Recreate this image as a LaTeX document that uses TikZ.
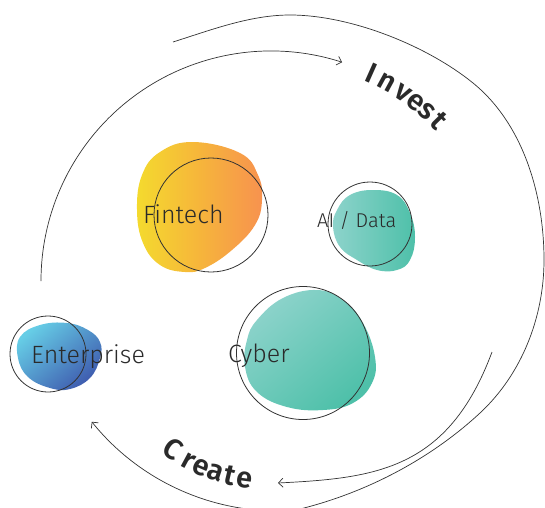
\documentclass[tikz,border=0pt]{standalone}
\usepackage{fontspec}
\newfontfamily\lightfont{Fira Sans Light}
\newfontfamily\semifont{Fira Sans SemiBold}
\usetikzlibrary{arrows.meta}
\definecolor{finY}{HTML}{F4DA2E}
\definecolor{finM}{HTML}{F6B53B}
\definecolor{finO}{HTML}{F7924F}
\definecolor{tealL}{HTML}{8DD3CB}
\definecolor{tealD}{HTML}{4EC0A9}
\definecolor{entL}{HTML}{66CDE6}
\definecolor{entM}{HTML}{34AED8}
\definecolor{entD}{HTML}{3E5AAE}
\definecolor{linegray}{HTML}{333333}
\definecolor{txt}{HTML}{2A2A2A}
\begin{document}
\begin{tikzpicture}[x=1pt,y=1pt,
  arcline/.style={line width=0.7pt, draw=linegray},
  tip/.style={-{Straight Barb[length=4.5pt,width=9pt,line width=0.7pt]}},
  ring/.style={circle, draw=linegray, line width=0.8pt, inner sep=0pt},
  lbl/.style={font=\lightfont\fontsize{25}{25}\selectfont, text=txt, anchor=base west, inner sep=0pt},
  ltr/.style={font=\semifont\fontsize{29}{29}\selectfont, text=txt, anchor=base, inner sep=0pt}]
\useasboundingbox (0,0) rectangle (545,507);
\clip (0,0) rectangle (545,507);

% blobs
\shade[left color=finY, right color=finO, middle color=finM]
  plot[smooth cycle, tension=0.7] coordinates {(193,365) (240,354) (258,332) (262,307) (255,282) (232,257) (205,239) (185,235) (160,242) (143,264) (137,297) (142,332) (160,355)};
\shade[left color=tealL, right color=tealD]
  plot[smooth cycle, tension=0.7] coordinates {(337,297) (350,312) (373,317) (397,312) (410,294) (415,270) (410,247) (397,237) (377,237) (357,247) (340,260) (333,280)};
\shade[shading=axis, top color=entL, middle color=entM, bottom color=entD, shading angle=40]
  plot[smooth cycle, tension=0.7] coordinates {(20,170) (40,182) (67,184) (88,177) (100,165) (100,149) (90,129) (70,118) (50,119) (28,130) (18,149)};
\shade[shading=axis, top color=tealL, bottom color=tealD, shading angle=40]
  plot[smooth cycle, tension=0.7] coordinates {(257,187) (283,209) (317,217) (343,207) (363,184) (375,150) (372,124) (353,104) (323,97) (287,100) (257,115) (245,140) (247,167)};

% rings
\node[ring, minimum size=114pt] (finring) at (211,292) {};
\node[ring, minimum size=84pt] (airing) at (370,283) {};
\node[ring, minimum size=76pt] (entring) at (48,153) {};
\node[ring, minimum size=133pt] (cybring) at (303,154) {};

% labels
\node[lbl] (fin) at (143,284) {Fintech};
\node[lbl, font=\lightfont\fontsize{20}{20}\selectfont] (ai) at (317,280) {AI / Data};
\node[lbl] (ent) at (31,144) {Enterprise};
\node[lbl] (cyb) at (228,145) {Cyber};

% Invest loop
\coordinate (upS) at (41,226);
\draw[arcline, tip] (upS) arc[start angle=180, end angle=72, radius=230];
\coordinate (outS) at (173,465);
\coordinate (outE) at (300,-2);
\draw[arcline] (outS) .. controls (211,477) and (250,492) .. (290,492)
  .. controls (350,492) and (426.4,461.8) .. (473,424)
  .. controls (523.4,383) and (544,312) .. (544,247)
  .. controls (544,190) and (521.8,132.8) .. (480,94)
  .. controls (430.2,47.8) and (366,14.3) .. (outE);

% Create loop
\coordinate (lowS) at (492,155);
\coordinate (lowE) at (278,24);
\draw[arcline, tip] (lowS) .. controls (448,36.8) and (375.3,28.9) .. (lowE);
\coordinate (crcen) at (278,235);
\coordinate (crS) at ([shift={(265:239)}]crcen);
\draw[arcline, tip] (crS) arc[start angle=265, end angle=218.8, radius=239];

% Invest
\coordinate (invc) at (281,231);
\foreach \ch/\ang [count=\i] in {I/65.9, n/61.4, v/56.3, e/52.1, s/48.5, t/44.4}
  \node[ltr, rotate=\ang-90] (inv\i) at ([shift={(\ang:212)}]invc) {\ch};
% Create
\coordinate (crc) at (268,195);
\foreach \ch/\ang [count=\i] in {C/235.4, r/241.7, e/246.7, a/252.0, t/256.8, e/262.0}
  \node[ltr, rotate=\ang+90] (cre\i) at ([shift={(\ang:177)}]crc) {\ch};
\end{tikzpicture}
\end{document}
